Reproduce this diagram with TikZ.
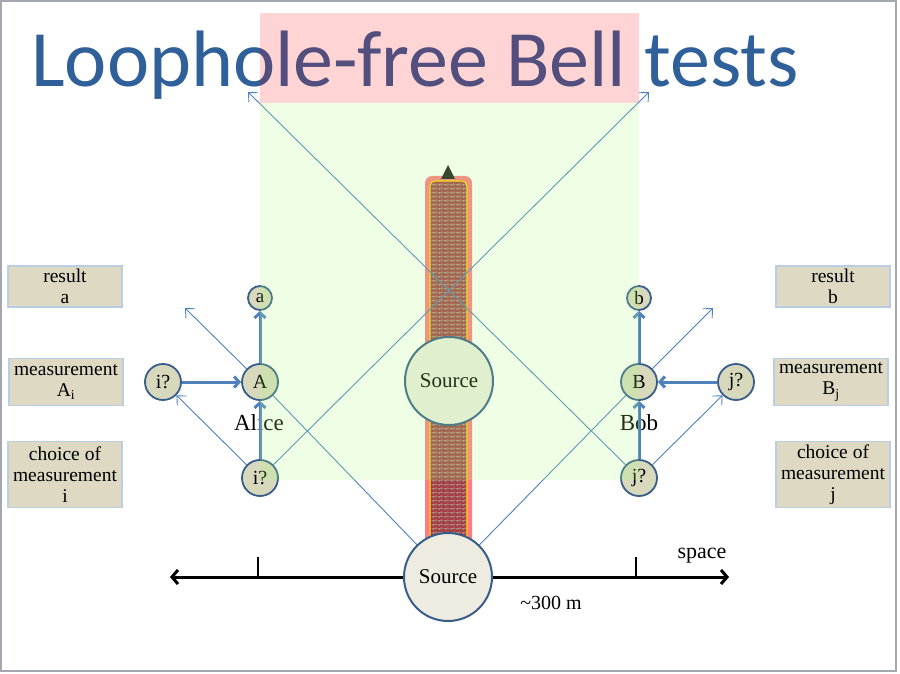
\documentclass[tikz,border=0pt]{standalone}
\usepackage{fontspec}
\setmainfont{Liberation Serif}
\newfontfamily\titlefont{Carlito}
\usetikzlibrary{arrows.meta,patterns.meta}
\definecolor{titleblue}{RGB}{47,96,153}
\definecolor{lineblue}{RGB}{79,129,189}
\definecolor{nodeborder}{RGB}{56,93,138}
\definecolor{boxfill}{RGB}{221,217,195}
\definecolor{boxborder}{RGB}{185,205,229}
\definecolor{circfill}{RGB}{216,216,188}
\definecolor{srcfill}{RGB}{238,236,225}
\definecolor{brickred}{RGB}{165,62,70}
\definecolor{mortar}{RGB}{175,160,140}
\definecolor{glow}{RGB}{255,100,110}
\definecolor{barline}{RGB}{255,215,0}
\definecolor{greenov}{RGB}{170,255,130}
\definecolor{framegray}{RGB}{165,167,175}
\pgfdeclarelayer{bg}
\pgfdeclarelayer{mid}
\pgfdeclarelayer{top}
\pgfsetlayers{bg,mid,main,top}
\tikzdeclarepattern{
  name=smallbricks,
  type=uncolored,
  bounding box={(0pt,0pt) and (6pt,4pt)},
  tile size={(6pt,4pt)},
  code={
    \draw[line width=0.5pt] (0pt,0pt) -- (6pt,0pt) (0pt,2pt) -- (6pt,2pt)
      (1.5pt,0pt) -- (1.5pt,2pt) (4.5pt,2pt) -- (4.5pt,4pt);
  }
}
\tikzset{
  smallc/.style={circle, draw=nodeborder, line width=1.8pt, fill=circfill,
    minimum size=36pt, inner sep=0pt, font=\fontsize{20}{20}\selectfont},
  tinyc/.style={smallc, minimum size=24pt, font=\fontsize{19}{19}\selectfont},
  srcc/.style={circle, draw=nodeborder, line width=2pt, fill=srcfill,
    minimum size=88pt, inner sep=0pt, font=\fontsize{21}{21}\selectfont},
  infobox/.style={draw=boxborder, line width=1.5pt, fill=boxfill,
    minimum width=114pt, align=center, font=\fontsize{19.5}{21}\selectfont, inner sep=0pt},
  bigarrow/.style={draw=lineblue, line width=3pt, -{Straight Barb[length=5pt,width=11pt]}},
  thinline/.style={draw=lineblue, line width=0.9pt},
  thinarrow/.style={thinline, -{Straight Barb[length=7pt,width=13pt]}},
  axisline/.style={draw=black, line width=3pt},
  person/.style={font=\fontsize{23}{23}\selectfont},
}
\begin{document}
\begin{tikzpicture}[x=1pt,y=-1pt]
\useasboundingbox (0,0) rectangle (900,674);
\begin{pgfonlayer}{bg}
  \fill[white] (0,0) rectangle (900,674);
  \draw[framegray, line width=2.5pt] (1,1) rectangle (896,671);
  \node[font=\titlefont\fontsize{80}{80}\selectfont, text=titleblue, anchor=base, inner sep=0pt] (title) at (415,87) {Loophole-free Bell tests};
  \fill[red, opacity=0.17] (260,13) rectangle (639,103);
  % axis
  \coordinate (axL) at (170,577);
  \coordinate (axR) at (729,577);
  \draw[axisline, {Straight Barb[length=6pt,width=14pt]}-{Straight Barb[length=6pt,width=14pt]}] (axL) -- (axR);
  \coordinate (tickAtop) at (258,557);
  \coordinate (tickAbot) at (258,577);
  \coordinate (tickBtop) at (636,557);
  \coordinate (tickBbot) at (636,577);
  \draw[black, line width=2pt] (tickAtop) -- (tickAbot);
  \draw[black, line width=2pt] (tickBtop) -- (tickBbot);
  % bar
  \fill[glow, opacity=0.85, rounded corners=7pt] (425,176) rectangle (472,548);
  \fill[brickred, rounded corners=5pt] (430,181) rectangle (467,548);
  \fill[pattern=smallbricks, pattern color=mortar, rounded corners=5pt] (430,181) rectangle (467,548);
  \draw[barline, line width=1.1pt, rounded corners=5pt] (430,181) rectangle (467,548);
  \coordinate (bartip) at (448,165);
  \coordinate (barbl) at (441,179);
  \coordinate (barbr) at (455,179);
  \fill[black!90] (bartip) -- (barbr) -- (barbl) -- cycle;
\end{pgfonlayer}

% nodes
\node[srcc] (srcB) at (448,577) {Source};
\node[srcc] (srcM) at (449,381) {Source};
\node[tinyc] (a) at (260,298) {a};
\node[smallc] (A) at (260,382) {A};
\node[smallc] (iL) at (163,382) {i?};
\node[smallc] (il) at (260,478) {i?};
\node[tinyc] (b) at (639,298) {b};
\node[smallc] (B) at (639,382) {B};
\node[smallc] (jR) at (736,382) {j?};
\node[smallc] (jl) at (639,478) {j?};
\node[person] (alice) at (259,423) {Alice};
\node[person] (bob) at (639,423) {Bob};
\node[font=\fontsize{22}{22}\selectfont] (space) at (702,556) {space};
\node[font=\fontsize{20}{20}\selectfont] (dist) at (551,603) {\textasciitilde300 m};

\node[infobox, minimum height=41pt] (resA) at (65,286.5) {result\\a};
\node[infobox, minimum height=47pt] (measA) at (66,382) {measurement\\A\textsubscript{i}};
\node[infobox, minimum height=66pt] (choiceA) at (65,474.5) {choice of\\measurement\\i};
\node[infobox, minimum height=41pt] (resB) at (833,286.5) {result\\b};
\node[infobox, minimum height=47pt] (measB) at (831,382) {measurement\\B\textsubscript{j}};
\node[infobox, minimum height=66pt] (choiceB) at (833,474.5) {choice of\\measurement\\j};

\coordinate (tl) at (248,92);
\coordinate (tr) at (649,92);
\coordinate (al) at (185,308);
\coordinate (br) at (713,308);

\begin{pgfonlayer}{mid}
  \draw[thinline] (srcB) -- (A);
  \draw[thinarrow] (A) -- (al);
  \draw[thinline] (srcB) -- (B);
  \draw[thinarrow] (B) -- (br);
  \draw[thinarrow] (il) -- (tr);
  \draw[thinarrow] (jl) -- (tl);
  \draw[thinarrow] (il) -- (iL);
  \draw[thinarrow] (jl) -- (jR);
\end{pgfonlayer}

\draw[bigarrow] (A) -- (a);
\draw[bigarrow] (iL) -- (A);
\draw[bigarrow] (il) -- (A);
\draw[bigarrow] (B) -- (b);
\draw[bigarrow] (jR) -- (B);
\draw[bigarrow] (jl) -- (B);

\begin{pgfonlayer}{top}
  \fill[greenov, opacity=0.2] (260,103) rectangle (639,480);
\end{pgfonlayer}
\end{tikzpicture}
\end{document}
